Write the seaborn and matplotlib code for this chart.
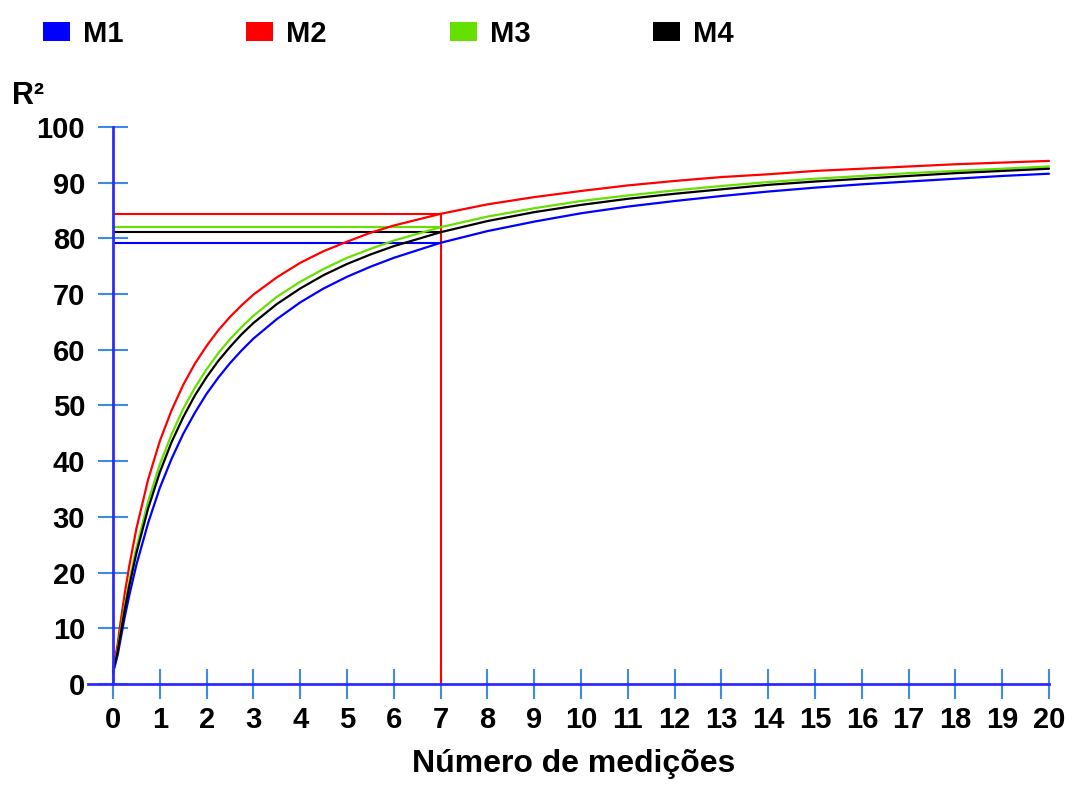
import numpy as np
import pandas as pd
import seaborn as sns
import matplotlib
matplotlib.use("Agg")
import matplotlib.pyplot as plt
from matplotlib.patches import Patch

# ---- data ----
x_vals = [0, 0.05, 0.1, 0.15, 0.25, 0.35, 0.5, 0.75, 1, 1.25, 1.5, 1.75, 2, 2.25, 2.5,
          2.75, 3, 3.5, 4, 4.5, 5, 5.5, 6, 7, 8, 9, 10,
          11, 12, 13, 14, 15, 16, 17, 18, 19, 20]
m1 = [2.0, 3.6, 5.2, 7.5, 12.0, 16.0, 21.4, 28.9, 35.2, 40.4, 44.9, 48.7, 52.1, 55.0, 57.6,
      59.9, 62.0, 65.5, 68.5, 71.0, 73.1, 74.9, 76.5, 79.2, 81.3, 83.0, 84.5,
      85.7, 86.7, 87.6, 88.4, 89.1, 89.7, 90.2, 90.7, 91.2, 91.6]
m2 = [2.8, 4.9, 7.2, 10.4, 16.2, 21.3, 27.9, 36.7, 43.6, 49.1, 53.7, 57.5, 60.7, 63.5, 65.9,
      68.0, 69.9, 73.0, 75.6, 77.7, 79.4, 81.0, 82.3, 84.4, 86.1, 87.4, 88.5,
      89.5, 90.3, 91.0, 91.5, 92.1, 92.5, 92.9, 93.3, 93.6, 93.9]
m3 = [2.4, 4.2, 6.1, 8.9, 14.0, 18.5, 24.5, 32.8, 39.4, 44.8, 49.4, 53.2, 56.5, 59.4, 61.9,
      64.1, 66.1, 69.5, 72.2, 74.5, 76.5, 78.1, 79.6, 82.0, 83.9, 85.4, 86.7,
      87.7, 88.6, 89.4, 90.1, 90.7, 91.2, 91.7, 92.1, 92.5, 92.9]
m4 = [2.2, 4.0, 5.8, 8.4, 13.3, 17.7, 23.5, 31.5, 38.0, 43.4, 47.9, 51.8, 55.1, 58.0, 60.5,
      62.8, 64.8, 68.2, 71.0, 73.4, 75.4, 77.1, 78.6, 81.1, 83.1, 84.7, 86.0,
      87.1, 88.0, 88.8, 89.6, 90.2, 90.7, 91.2, 91.7, 92.1, 92.5]
series_names = ["M1", "M2", "M3", "M4"]
x_ticks = list(range(0, 21))
y_ticks = list(range(0, 101, 10))
ref_x = 7

colors = {"M1": "#0000ff", "M2": "#ff0000", "M3": "#66e000", "M4": "#000000"}

rows = []
for name, vals in zip(series_names, [m1, m2, m3, m4]):
    for xv, yv in zip(x_vals, vals):
        rows.append({"n": xv, "R2": yv, "serie": name})
df = pd.DataFrame(rows)

sns.set_theme(style="white")
plt.rcParams["font.family"] = ["Liberation Sans", "DejaVu Sans"]
plt.rcParams["font.weight"] = "bold"
plt.rcParams["text.color"] = "black"
plt.rcParams["axes.labelcolor"] = "black"

fig = plt.figure(figsize=(10.75, 7.87), dpi=100)
ax = fig.add_axes([0.079, 0.1238, 0.9099, 0.722])

# reference lines at n = 7
ref_idx = x_vals.index(ref_x)
for name, vals in zip(series_names, [m1, m2, m3, m4]):
    ax.hlines(vals[ref_idx], 0, ref_x, color=colors[name], lw=1.5, zorder=2)
ax.vlines(ref_x, 0, m2[ref_idx], color=colors["M2"], lw=1.5, zorder=2)

sns.lineplot(data=df, x="n", y="R2", hue="serie", palette=colors, lw=1.6,
             legend=False, ax=ax, zorder=3)

for s in ["top", "right"]:
    ax.spines[s].set_visible(False)
ax.spines["left"].set_position(("data", 0))
ax.spines["bottom"].set_position(("data", 0))

ax.set_xlim(-0.6, 20.3)
ax.set_ylim(-1, 101)
ax.spines["left"].set_bounds(0, 100)
ax.spines["bottom"].set_bounds(-0.53, 20)
for s in ["left", "bottom"]:
    ax.spines[s].set_color("#2b2bff")
    ax.spines[s].set_linewidth(2)
    ax.spines[s].set_zorder(4)

ax.set_xticks(x_ticks)
ax.set_yticks(y_ticks)
ax.set_xticklabels([str(t) for t in x_ticks], fontsize=21, fontweight="bold", color="black")
ax.set_yticklabels([str(t) for t in y_ticks], fontsize=21, fontweight="bold", color="black")
ax.set_xlabel("Número de medições", fontsize=23, fontweight="bold", labelpad=11, color="black")
ax.set_ylabel("")

ax.tick_params(axis="both", which="major", direction="inout", length=22, width=1.5,
               color="#3d8be6", bottom=True, left=True)
ax.tick_params(axis="x", pad=5)
ax.tick_params(axis="y", pad=9)

fig.text(12 / 1075, 1 - 104 / 787, "R²", fontsize=22, fontweight="bold", ha="left",
         va="baseline", color="black")

handles = [Patch(facecolor=colors[n], edgecolor="none") for n in series_names]
leg = fig.legend(handles, series_names, loc="upper left", bbox_to_anchor=(43 / 1075, 0.975),
                 ncol=4, frameon=False, handlelength=0.93, handleheight=0.62,
                 handletextpad=0.45, columnspacing=4.2, borderpad=0, borderaxespad=0,
                 prop={"weight": "bold", "size": 21})
for t in leg.get_texts():
    t.set_color("black")

fig.savefig("out.png", dpi=100, facecolor="white")
